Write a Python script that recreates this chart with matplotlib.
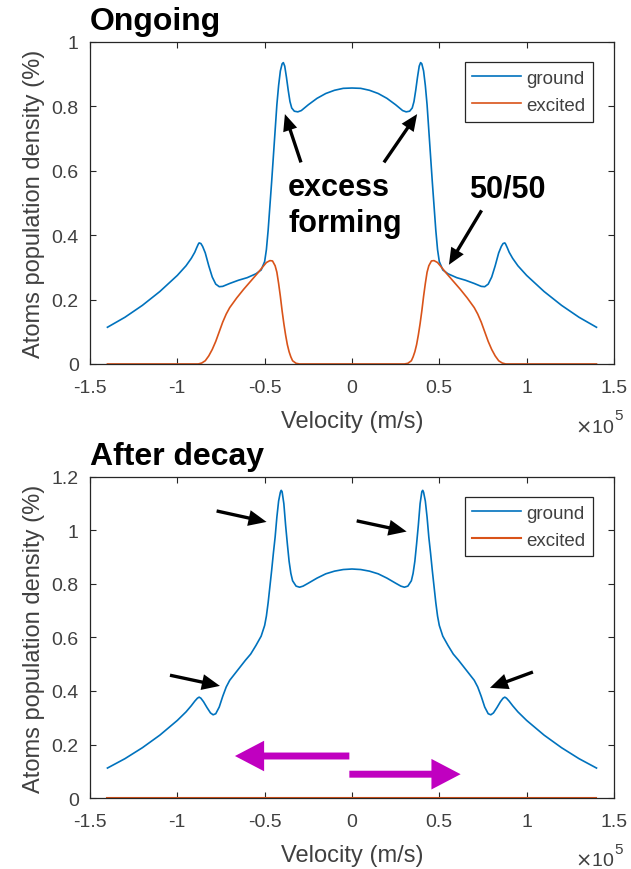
import matplotlib
matplotlib.use("Agg")
import matplotlib.pyplot as plt
from matplotlib.ticker import FuncFormatter

plt.rcParams['font.family'] = ['Liberation Sans', 'DejaVu Sans']
plt.rcParams['axes.unicode_minus'] = False

# velocity in units of 1e5 m/s, population density in %
vel_top = [-1.40, -1.30, -1.20, -1.10, -1.00, -0.95, -0.92, -0.90, -0.89, -0.88, -0.875,
           -0.865, -0.855, -0.84, -0.82, -0.80, -0.78, -0.76, -0.74, -0.70, -0.65, -0.60,
           -0.55, -0.52, -0.50, -0.49, -0.48, -0.47, -0.46, -0.45, -0.44, -0.43, -0.42,
           -0.41, -0.40, -0.393, -0.385, -0.375, -0.365, -0.355, -0.345, -0.33, -0.31,
           -0.29, -0.25, -0.20, -0.15, -0.10, -0.05, 0.00,
           0.05, 0.10, 0.15, 0.20, 0.25, 0.29, 0.31, 0.33, 0.345, 0.355, 0.365, 0.375,
           0.385, 0.393, 0.40, 0.41, 0.42, 0.43, 0.44, 0.45, 0.46, 0.47, 0.48, 0.49, 0.50,
           0.52, 0.55, 0.60, 0.65, 0.70, 0.74, 0.76, 0.78, 0.80, 0.82, 0.84, 0.855, 0.865,
           0.875, 0.88, 0.89, 0.90, 0.92, 0.95, 1.00, 1.10, 1.20, 1.30, 1.40]
ground_top = [0.114, 0.145, 0.182, 0.225, 0.275, 0.305, 0.328, 0.347, 0.360, 0.372, 0.376,
              0.374, 0.365, 0.345, 0.305, 0.270, 0.248, 0.240, 0.241, 0.250, 0.260, 0.268,
              0.280, 0.292, 0.318, 0.355, 0.415, 0.490, 0.565, 0.645, 0.725, 0.805, 0.865,
              0.910, 0.932, 0.936, 0.925, 0.890, 0.850, 0.815, 0.795, 0.785, 0.783,
              0.787, 0.805, 0.825, 0.840, 0.850, 0.856, 0.857,
              0.856, 0.850, 0.840, 0.825, 0.805, 0.787, 0.783, 0.785, 0.795, 0.815, 0.850, 0.890,
              0.925, 0.936, 0.932, 0.910, 0.865, 0.805, 0.725, 0.645, 0.565, 0.490, 0.415, 0.355, 0.318,
              0.292, 0.280, 0.268, 0.260, 0.250, 0.241, 0.240, 0.248, 0.270, 0.305, 0.345, 0.365, 0.374,
              0.376, 0.372, 0.360, 0.347, 0.328, 0.305, 0.275, 0.225, 0.182, 0.145, 0.114]

vel_exc = [-1.40, -0.88, -0.86, -0.84, -0.82, -0.80, -0.78, -0.76, -0.74, -0.72, -0.70, -0.66,
           -0.62, -0.58, -0.54, -0.51, -0.49, -0.47, -0.455, -0.44, -0.43, -0.42, -0.41, -0.40,
           -0.39, -0.38, -0.37, -0.36, -0.35, -0.34, -0.32, -0.30,
           0.30, 0.32, 0.34, 0.35, 0.36, 0.37, 0.38, 0.39, 0.40, 0.41, 0.42, 0.43, 0.44, 0.455,
           0.47, 0.49, 0.51, 0.54, 0.58, 0.62, 0.66, 0.70, 0.72, 0.74, 0.76, 0.78, 0.80, 0.82,
           0.84, 0.86, 0.88, 1.40]
excited_top = [0.0, 0.0, 0.003, 0.010, 0.025, 0.045, 0.070, 0.100, 0.130, 0.155, 0.175, 0.205,
               0.232, 0.257, 0.282, 0.302, 0.315, 0.321, 0.320, 0.305, 0.285, 0.250, 0.210, 0.165,
               0.125, 0.090, 0.060, 0.038, 0.022, 0.010, 0.002, 0.0,
               0.0, 0.002, 0.010, 0.022, 0.038, 0.060, 0.090, 0.125, 0.165, 0.210, 0.250, 0.285, 0.305, 0.320,
               0.321, 0.315, 0.302, 0.282, 0.257, 0.232, 0.205, 0.175, 0.155, 0.130, 0.100, 0.070, 0.045, 0.025,
               0.010, 0.003, 0.0, 0.0]

vel_bot = [-1.40, -1.30, -1.20, -1.10, -1.00, -0.95, -0.92, -0.90, -0.885, -0.875, -0.865, -0.85,
           -0.83, -0.81, -0.795, -0.78, -0.76, -0.74, -0.72, -0.70, -0.67, -0.64, -0.61, -0.58,
           -0.55, -0.52, -0.50, -0.49, -0.48, -0.47, -0.46, -0.45, -0.44, -0.43, -0.42, -0.41,
           -0.405, -0.40, -0.39, -0.38, -0.37, -0.36, -0.35, -0.34, -0.32, -0.30, -0.28, -0.25,
           -0.20, -0.15, -0.10, -0.05, 0.00,
           0.05, 0.10, 0.15, 0.20, 0.25, 0.28, 0.30, 0.32, 0.34, 0.35, 0.36, 0.37, 0.38, 0.39,
           0.40, 0.405, 0.41, 0.42, 0.43, 0.44, 0.45, 0.46, 0.47, 0.48, 0.49, 0.50, 0.52, 0.55,
           0.58, 0.61, 0.64, 0.67, 0.70, 0.72, 0.74, 0.76, 0.78, 0.795, 0.81, 0.83, 0.85, 0.865,
           0.875, 0.885, 0.90, 0.92, 0.95, 1.00, 1.10, 1.20, 1.30, 1.40]
ground_bot = [0.112, 0.147, 0.188, 0.235, 0.290, 0.322, 0.345, 0.362, 0.373, 0.377, 0.373, 0.360,
              0.338, 0.318, 0.311, 0.315, 0.340, 0.380, 0.415, 0.440, 0.465, 0.490, 0.515, 0.538,
              0.570, 0.605, 0.645, 0.680, 0.730, 0.790, 0.850, 0.915, 0.975, 1.050, 1.110, 1.143,
              1.150, 1.145, 1.100, 1.020, 0.950, 0.885, 0.840, 0.812, 0.792, 0.788, 0.792, 0.803,
              0.822, 0.838, 0.848, 0.854, 0.856,
              0.854, 0.848, 0.838, 0.822, 0.803, 0.792, 0.788, 0.792, 0.812, 0.840, 0.885, 0.950, 1.020, 1.100,
              1.145, 1.150, 1.143, 1.110, 1.050, 0.975, 0.915, 0.850, 0.790, 0.730, 0.680, 0.645, 0.605, 0.570,
              0.538, 0.515, 0.490, 0.465, 0.440, 0.415, 0.380, 0.340, 0.315, 0.311, 0.318, 0.338, 0.360, 0.373,
              0.377, 0.373, 0.362, 0.345, 0.322, 0.290, 0.235, 0.188, 0.147, 0.112]

vel_exc_bot = [-1.40, 1.40]
excited_bot = [0.0, 0.0]

xticks = [-1.5, -1, -0.5, 0, 0.5, 1, 1.5]
yticks_top = [0, 0.2, 0.4, 0.6, 0.8, 1]
yticks_bot = [0, 0.2, 0.4, 0.6, 0.8, 1, 1.2]

# arrows: (tail x, tail y, tip x, tip y)
top_arrows = [(-0.292, 0.626, -0.384, 0.776), (0.183, 0.626, 0.373, 0.776),
              (0.742, 0.477, 0.555, 0.308)]
bot_arrows = [(-0.775, 1.073, -0.489, 1.032), (0.027, 1.036, 0.313, 0.996),
              (-1.042, 0.459, -0.756, 0.419), (1.036, 0.471, 0.790, 0.412)]
push_arrows = [(-0.015, 0.157, -0.670, 0.157), (-0.015, 0.089, 0.622, 0.089)]

blue = '#0072BD'
orange = '#D95319'
dark = '#262626'
grey = '#404040'

fig = plt.figure(figsize=(6.31, 8.70), dpi=100)
ax1 = fig.add_axes([0.1426, 0.5805, 0.8304, 0.3701])
ax2 = fig.add_axes([0.1426, 0.0816, 0.8304, 0.3690])


def style(ax, yticks, ymax, title):
    ax.set_xlim(-1.5, 1.5)
    ax.set_ylim(0, ymax)
    ax.set_xticks(xticks)
    ax.set_yticks(yticks)
    fmt = FuncFormatter(lambda v, p: '%g' % v)
    ax.xaxis.set_major_formatter(fmt)
    ax.yaxis.set_major_formatter(fmt)
    ax.tick_params(direction='in', length=4, width=0.8, color=dark, labelcolor=grey,
                   labelsize=14, top=True, right=True)
    ax.tick_params(axis='x', pad=11)
    ax.tick_params(axis='y', pad=8)
    for s in ax.spines.values():
        s.set_color(dark)
        s.set_linewidth(0.9)
    ax.set_xlabel('Velocity (m/s)', fontsize=17, color=grey, labelpad=10)
    ax.set_ylabel('Atoms population density (%)', fontsize=17, color=grey, labelpad=5)
    ax.text(1.0, -0.21, r'$\times$10', transform=ax.transAxes, ha='right', va='baseline',
            fontsize=14, color=grey)
    ax.text(1.0, -0.172, '5', transform=ax.transAxes, ha='left', va='baseline',
            fontsize=11, color=grey)
    ax.annotate(title, xy=(0, 1), xycoords='axes fraction', xytext=(0, 9),
                textcoords='offset points', ha='left', va='baseline',
                fontsize=23, fontweight='bold')
    leg = ax.legend(loc='upper right', bbox_to_anchor=(0.96, 0.938), fontsize=13.5,
                    handlelength=2.6, handletextpad=0.3, labelspacing=0.55,
                    borderpad=0.4, borderaxespad=0, fancybox=False, framealpha=1)
    leg.get_frame().set_edgecolor(dark)
    leg.get_frame().set_linewidth(0.9)
    for t in leg.get_texts():
        t.set_color(grey)


def arrow(ax, a, color, hl, hw, tw):
    ax.annotate('', xy=(a[2], a[3]), xytext=(a[0], a[1]),
                arrowprops=dict(arrowstyle='simple,head_length=%g,head_width=%g,tail_width=%g'
                                % (hl, hw, tw),
                                color=color, shrinkA=0, shrinkB=0, mutation_scale=10, lw=0))


ax1.plot(vel_top, ground_top, color=blue, lw=1.2, label='ground')
ax1.plot(vel_exc, excited_top, color=orange, lw=1.2, label='excited')
style(ax1, yticks_top, 1, 'Ongoing')
for a in top_arrows:
    arrow(ax1, a, 'black', 1.2, 1.05, 0.24)
ax1.text(-0.366, 0.525, 'excess', fontsize=22, fontweight='bold')
ax1.text(-0.366, 0.413, 'forming', fontsize=22, fontweight='bold')
ax1.text(0.67, 0.519, '50/50', fontsize=22, fontweight='bold')

ax2.plot(vel_bot, ground_bot, color=blue, lw=1.2, label='ground')
ax2.plot(vel_exc_bot, excited_bot, color=orange, lw=1.5, label='excited')
style(ax2, yticks_bot, 1.2, 'After decay')
for a in bot_arrows:
    arrow(ax2, a, 'black', 1.3, 1.15, 0.24)
for a in push_arrows:
    arrow(ax2, a, '#C000C0', 2.1, 2.2, 0.5)

fig.savefig('out.png', dpi=100)
